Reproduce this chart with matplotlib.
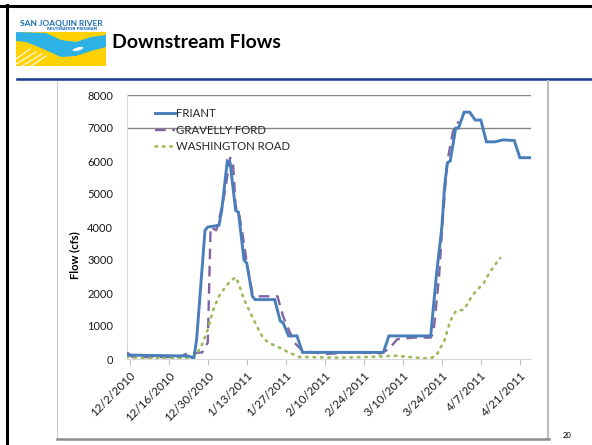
import matplotlib
matplotlib.use('Agg')
import matplotlib.pyplot as plt
import matplotlib.dates as mdates
import pandas as pd
from matplotlib.patches import Rectangle, Polygon, Ellipse
from matplotlib.lines import Line2D

# ---------------- data ----------------
friant_dates = ['2010-12-01', '2010-12-23', '2010-12-25', '2010-12-26', '2010-12-29', '2010-12-30',
                '2011-01-03', '2011-01-04', '2011-01-06', '2011-01-07', '2011-01-09', '2011-01-10',
                '2011-01-12', '2011-01-13', '2011-01-15', '2011-01-16', '2011-01-23', '2011-01-25',
                '2011-01-26', '2011-01-28', '2011-01-31', '2011-02-02', '2011-03-03', '2011-03-05',
                '2011-03-20', '2011-03-22', '2011-03-24', '2011-03-25', '2011-03-26', '2011-03-27',
                '2011-03-29', '2011-03-30', '2011-04-01', '2011-04-03', '2011-04-05', '2011-04-07',
                '2011-04-09', '2011-04-12', '2011-04-15', '2011-04-19', '2011-04-21', '2011-04-25']
friant_flow = [120, 90, 30, 600, 3900, 4000,
               4050, 4500, 6000, 5950, 4500, 4450,
               3000, 2900, 1900, 1800, 1800, 1150,
               1100, 700, 700, 200, 200, 700,
               700, 2500, 4000, 5250, 5950, 6000,
               7000, 7000, 7480, 7480, 7240, 7240,
               6580, 6580, 6640, 6620, 6100, 6100]

gravelly_dates = ['2010-12-01', '2010-12-03', '2010-12-20', '2010-12-22', '2010-12-28', '2010-12-30',
                  '2010-12-31', '2011-01-02', '2011-01-03', '2011-01-05', '2011-01-07', '2011-01-08',
                  '2011-01-09', '2011-01-10', '2011-01-12', '2011-01-13', '2011-01-15', '2011-01-17',
                  '2011-01-24', '2011-01-26', '2011-01-28', '2011-01-30', '2011-02-02', '2011-02-10',
                  '2011-02-20', '2011-03-02', '2011-03-05', '2011-03-08', '2011-03-14', '2011-03-20',
                  '2011-03-21', '2011-03-23', '2011-03-24', '2011-03-25', '2011-03-26', '2011-03-28',
                  '2011-03-30']
gravelly_flow = [200, 60, 60, 150, 200, 500,
                 4000, 3900, 4200, 5000, 6100, 6000,
                 4600, 4500, 3500, 2900, 2000, 1900,
                 1900, 1300, 900, 500, 250, 150,
                 200, 170, 300, 600, 650, 650,
                 800, 2500, 3800, 5000, 6000, 6900,
                 7200]

washington_dates = ['2010-12-01', '2010-12-10', '2010-12-24', '2010-12-26', '2010-12-28', '2010-12-30',
                    '2011-01-01', '2011-01-03', '2011-01-05', '2011-01-07', '2011-01-09', '2011-01-10',
                    '2011-01-12', '2011-01-14', '2011-01-16', '2011-01-18', '2011-01-20', '2011-01-22',
                    '2011-01-25', '2011-01-28', '2011-02-01', '2011-02-15', '2011-03-01', '2011-03-07',
                    '2011-03-12', '2011-03-18', '2011-03-20', '2011-03-22', '2011-03-25', '2011-03-27',
                    '2011-03-29', '2011-04-01', '2011-04-04', '2011-04-08', '2011-04-10', '2011-04-12',
                    '2011-04-14']
washington_flow = [60, 20, 30, 150, 450, 900,
                   1500, 1900, 2150, 2350, 2480, 2300,
                   1800, 1450, 1100, 750, 550, 450,
                   330, 200, 60, 40, 70, 100,
                   60, 20, 30, 100, 580, 1150,
                   1450, 1500, 1940, 2300, 2600, 2850,
                   3060]

series_names = ['FRIANT', 'GRAVELLY FORD', 'WASHINGTON ROAD']
tick_dates = ['2010-12-02', '2010-12-16', '2010-12-30', '2011-01-13', '2011-01-27', '2011-02-10',
              '2011-02-24', '2011-03-10', '2011-03-24', '2011-04-07', '2011-04-21']
tick_labels = ['12/2/2010', '12/16/2010', '12/30/2010', '1/13/2011', '1/27/2011', '2/10/2011',
               '2/24/2011', '3/10/2011', '3/24/2011', '4/7/2011', '4/21/2011']
y_ticks = [0, 1000, 2000, 3000, 4000, 5000, 6000, 7000, 8000]
grid_values = [7000, 8000]

# ---------------- figure ----------------
W, H = 592, 445
fig = plt.figure(figsize=(W / 100, H / 100), dpi=100)
plt.rcParams['font.family'] = ['Lato', 'DejaVu Sans']


def fx(px):
    return px / W


def fy(py):
    return 1 - py / H


# slide borders
fig.add_artist(Line2D([0, 1], [fy(5.5), fy(5.5)], color='black', lw=2.2))
fig.add_artist(Line2D([fx(7), fx(7)], [0, fy(5)], color='black', lw=2.2))
# header rule
fig.add_artist(Line2D([fx(17), 1], [fy(79), fy(79)], color='#16398A', lw=1.8))
# chart object frame
fig.add_artist(Line2D([fx(57), fx(57)], [fy(438), fy(81)], color='#C8C8C8', lw=0.8))
fig.add_artist(Line2D([fx(548), fx(548)], [fy(438), fy(81)], color='#BEBEBE', lw=1.6))
fig.add_artist(Line2D([fx(57), fx(549)], [fy(438.5), fy(438.5)], color='#8C8C8C', lw=1.8))

# title
fig.text(fx(112), fy(43), 'Downstream Flows', fontsize=14, fontweight='bold',
         va='center', ha='left', color='black')
# page number
fig.text(fx(567), fy(436), '20', fontsize=5.5, ha='center', va='center', color='black')

# logo
lax = fig.add_axes([fx(16), fy(66), (106 - 16) / W, (66 - 19) / H])
lax.set_xlim(0, 90)
lax.set_ylim(47, 0)
lax.axis('off')
lax.text(45, 4.2, 'SAN JOAQUIN RIVER', fontsize=6.0, fontweight='bold', color='#1C6FB8',
         ha='center', va='center')
lax.text(56, 10, 'RESTORATION PROGRAM', fontsize=2.6, fontweight='bold', color='#1C6FB8',
         ha='center', va='center', family=['DejaVu Sans'])
lax.add_patch(Rectangle((0, 13), 90, 34, facecolor='#FFD204', edgecolor='none'))
upper = [(0, 13), (30, 14), (45, 21), (60, 23), (75, 18), (90, 16)]
lower = [(90, 28), (75, 32), (60, 37), (45, 38), (25, 29), (10, 23), (0, 22)]
lax.add_patch(Polygon(upper + lower, closed=True, facecolor='#2EB2E6', edgecolor='none'))
lax.add_patch(Ellipse((62, 30), 11, 3.2, angle=-15, facecolor='white', edgecolor='none'))
for (x0, y0, x1, y1) in [(0, 40, 14, 30), (0, 45, 20, 33), (6, 47, 26, 35), (15, 47, 30, 37)]:
    lax.plot([x0, x1], [y0, y1], color='white', lw=0.9, alpha=0.9)

# chart axes
ax = fig.add_axes([fx(127), fy(359), (531 - 127) / W, (359 - 95) / H])
fd = pd.to_datetime(friant_dates)
gd = pd.to_datetime(gravelly_dates)
wd = pd.to_datetime(washington_dates)
ax.plot(fd, friant_flow, color='#4A7EBB', lw=2.1, solid_joinstyle='miter', label=series_names[0], zorder=4)
ax.plot(gd, gravelly_flow, color='#8064A2', lw=1.7, dashes=(4.5, 2.8), label=series_names[1], zorder=3)
ax.plot(wd, washington_flow, color='#9BBB59', lw=1.9, dashes=(0.6, 2.2), dash_capstyle='round',
        label=series_names[2], zorder=3)

ax.set_xlim(pd.Timestamp('2010-12-01'), pd.Timestamp('2011-04-25'))
ax.set_ylim(0, 8000)
for g in grid_values:
    ax.axhline(g, color='#868686', lw=1.0, zorder=1)

ax.set_yticks(y_ticks)
ax.set_yticklabels([str(v) for v in y_ticks])
ax.set_xticks(pd.to_datetime(tick_dates))
ax.set_xticklabels(tick_labels, rotation=45, ha='right', rotation_mode='anchor')
ax.tick_params(axis='y', length=0, pad=10, labelsize=8, labelcolor='#1A1A1A')
ax.tick_params(axis='x', length=4, width=0.8, color='#BFBFBF', pad=4, labelsize=8.3,
               labelcolor='#1A1A1A', direction='out')
for s in ['top', 'right']:
    ax.spines[s].set_visible(False)
ax.spines['left'].set_color('#D9D9D9')
ax.spines['left'].set_linewidth(0.8)
ax.spines['bottom'].set_color('#D9D9D9')
ax.spines['bottom'].set_linewidth(0.8)

fig.text(fx(75), fy(255), 'Flow (cfs)', rotation=90, fontsize=8, fontweight='bold',
         ha='center', va='center')

leg = ax.legend(loc='upper left', bbox_to_anchor=(0.058, 0.968), frameon=False, fontsize=8.2,
                handlelength=1.75, handletextpad=0.1, labelspacing=0.5, borderaxespad=0)
for t in leg.get_texts():
    t.set_color('#262626')

fig.savefig('out.png', dpi=100)
